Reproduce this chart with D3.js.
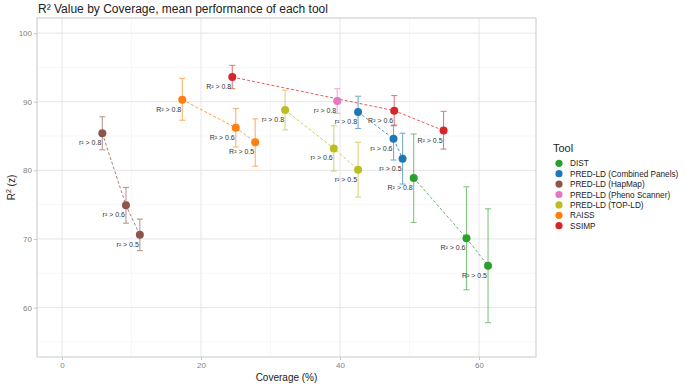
<!DOCTYPE html>
<html>
<head>
<meta charset="utf-8">
<script src="https://cdn.jsdelivr.net/npm/d3@7"></script>
<style>
  body { margin: 0; background: #fff; }
  text { font-family: "Liberation Sans", Arial, sans-serif; }
</style>
</head>
<body>
<div id="chart"></div>
<script>
// tools in legend order
var tools = ["DIST", "PRED-LD (Combined Panels)", "PRED-LD (HapMap)", "PRED-LD (Pheno Scanner)", "PRED-LD (TOP-LD)", "RAISS", "SSIMP"];
var toolColors = ["#2ca02c", "#1f77b4", "#8c564b", "#e377c2", "#bcbd22", "#ff7f0e", "#d62728"];

// one entry per point
var pointTool  = ["DIST", "DIST", "DIST",
                  "PRED-LD (Combined Panels)", "PRED-LD (Combined Panels)", "PRED-LD (Combined Panels)",
                  "PRED-LD (HapMap)", "PRED-LD (HapMap)", "PRED-LD (HapMap)",
                  "PRED-LD (Pheno Scanner)",
                  "PRED-LD (TOP-LD)", "PRED-LD (TOP-LD)", "PRED-LD (TOP-LD)",
                  "RAISS", "RAISS", "RAISS",
                  "SSIMP", "SSIMP", "SSIMP"];
var coverage   = [50.6, 58.2, 61.3,  42.6, 47.7, 49.0,  5.8, 9.2, 11.2,  39.6,  32.1, 39.1, 42.6,  17.3, 25.0, 27.8,  24.5, 47.8, 54.9];
var meanR2     = [78.9, 70.1, 66.1,  88.5, 84.6, 81.7,  85.4, 74.9, 70.6,  90.1,  88.8, 83.2, 80.1,  90.3, 86.2, 84.1,  93.6, 88.7, 85.8];
var ciLow      = [72.4, 62.6, 57.8,  86.1, 81.5, 78.0,  83.0, 72.3, 68.3,  88.3,  85.9, 79.9, 76.1,  87.3, 83.4, 80.6,  91.9, 86.6, 83.1];
var ciHigh     = [85.3, 77.6, 74.4,  90.8, 86.5, 85.4,  87.8, 77.5, 72.9,  91.9,  91.7, 86.5, 84.1,  93.4, 89.0, 87.5,  95.3, 90.9, 88.6];
var threshold  = ["R² > 0.8", "R² > 0.6", "R² > 0.5",
                  "r² > 0.8", "r² > 0.6", "r² > 0.5",
                  "r² > 0.8", "r² > 0.6", "r² > 0.5",
                  "r² > 0.8",
                  "r² > 0.8", "r² > 0.6", "r² > 0.5",
                  "R² > 0.8", "R² > 0.6", "R² > 0.5",
                  "R² > 0.8", "R² > 0.6", "R² > 0.5"];

var xTicks = [0, 20, 40, 60];
var yTicks = [60, 70, 80, 90, 100];

var data = coverage.map(function(c, i) {
    return { tool: pointTool[i], x: c, y: meanR2[i], lo: ciLow[i], hi: ciHigh[i], label: threshold[i] };
});

var W = 685, H = 384;
var margin = { top: 18, right: 149, bottom: 27, left: 37 },
    width = W - margin.left - margin.right,
    height = H - margin.top - margin.bottom;

var svg = d3.select("#chart").append("svg")
    .attr("width", W)
    .attr("height", H);

var g = svg.append("g")
    .attr("transform", "translate(" + margin.left + "," + margin.top + ")");

var xScale = d3.scaleLinear().domain([-3.6, 68.2]).range([0, width]);
var yScale = d3.scaleLinear().domain([52.8, 102.2]).range([height, 0]);
var color = d3.scaleOrdinal().domain(tools).range(toolColors);

// minor grid
[-10, 10, 30, 50, 70].forEach(function(v) {
    if (xScale(v) < 0 || xScale(v) > width) return;
    g.append("line").attr("x1", xScale(v)).attr("x2", xScale(v)).attr("y1", 0).attr("y2", height)
        .style("stroke", "#f2f2f2").style("stroke-width", 0.6);
});
[55, 65, 75, 85, 95].forEach(function(v) {
    g.append("line").attr("y1", yScale(v)).attr("y2", yScale(v)).attr("x1", 0).attr("x2", width)
        .style("stroke", "#f2f2f2").style("stroke-width", 0.6);
});
// major grid
xTicks.forEach(function(v) {
    g.append("line").attr("x1", xScale(v)).attr("x2", xScale(v)).attr("y1", 0).attr("y2", height)
        .style("stroke", "#e6e6e6").style("stroke-width", 1);
});
yTicks.forEach(function(v) {
    g.append("line").attr("y1", yScale(v)).attr("y2", yScale(v)).attr("x1", 0).attr("x2", width)
        .style("stroke", "#e6e6e6").style("stroke-width", 1);
});

// axes
var xAxis = g.append("g")
    .attr("transform", "translate(0," + height + ")")
    .call(d3.axisBottom(xScale).tickValues(xTicks).tickSize(3).tickPadding(2));
var yAxis = g.append("g")
    .call(d3.axisLeft(yScale).tickValues(yTicks).tickSize(3).tickPadding(2));
[xAxis, yAxis].forEach(function(a) {
    a.select(".domain").remove();
    a.selectAll("line").style("stroke", "#c8c8c8");
    a.selectAll("text").style("fill", "#7f7f7f").style("font-size", "8px")
        .style("font-family", "'Liberation Sans', Arial, sans-serif");
});

// panel border
g.append("rect").attr("width", width).attr("height", height)
    .style("fill", "none").style("stroke", "#c8c8c8").style("stroke-width", 1);

// dashed connecting lines
var line = d3.line()
    .x(function(d) { return xScale(d.x); })
    .y(function(d) { return yScale(d.y); });

tools.forEach(function(t) {
    var pts = data.filter(function(d) { return d.tool === t; });
    g.append("path")
        .datum(pts)
        .attr("d", line)
        .style("fill", "none")
        .style("stroke", color(t))
        .style("stroke-width", 1)
        .style("stroke-dasharray", "3,2")
        .style("opacity", 0.75);
});

// error bars
var bars = g.selectAll(".errbar").data(data).enter().append("g")
    .attr("class", "errbar")
    .style("stroke", function(d) { return color(d.tool); })
    .style("stroke-width", 1.1)
    .style("opacity", 0.6);
bars.append("line")
    .attr("x1", function(d) { return xScale(d.x); })
    .attr("x2", function(d) { return xScale(d.x); })
    .attr("y1", function(d) { return yScale(d.lo); })
    .attr("y2", function(d) { return yScale(d.hi); });
bars.append("line")
    .attr("x1", function(d) { return xScale(d.x) - 3; })
    .attr("x2", function(d) { return xScale(d.x) + 3; })
    .attr("y1", function(d) { return yScale(d.lo); })
    .attr("y2", function(d) { return yScale(d.lo); });
bars.append("line")
    .attr("x1", function(d) { return xScale(d.x) - 3; })
    .attr("x2", function(d) { return xScale(d.x) + 3; })
    .attr("y1", function(d) { return yScale(d.hi); })
    .attr("y2", function(d) { return yScale(d.hi); });

// points
g.selectAll(".pt").data(data).enter().append("circle")
    .attr("class", "pt")
    .attr("cx", function(d) { return xScale(d.x); })
    .attr("cy", function(d) { return yScale(d.y); })
    .attr("r", 4)
    .style("fill", function(d) { return color(d.tool); });

// threshold labels
g.selectAll(".lbl").data(data).enter().append("text")
    .attr("class", "lbl")
    .attr("x", function(d) { return xScale(d.x) - 1; })
    .attr("y", function(d) { return yScale(d.y) + 12; })
    .attr("text-anchor", "end")
    .style("font-size", "7px")
    .style("fill", "#333")
    .text(function(d) { return d.label; });

// title
svg.append("text")
    .attr("x", 38).attr("y", 13)
    .style("font-size", "12px")
    .style("fill", "#222")
    .text("R² Value by Coverage, mean performance of each tool");

// axis titles
svg.append("text")
    .attr("x", margin.left + width / 2).attr("y", 381)
    .attr("text-anchor", "middle")
    .style("font-size", "10px")
    .style("fill", "#222")
    .text("Coverage (%)");

var yt = svg.append("text")
    .attr("transform", "translate(15," + (margin.top + height / 2) + ") rotate(-90)")
    .attr("text-anchor", "middle")
    .style("font-size", "10px")
    .style("fill", "#222");
yt.append("tspan").text("R");
yt.append("tspan").attr("dy", -4).style("font-size", "7px").text("2");
yt.append("tspan").attr("dy", 4).text(" (z)");

// legend
var legend = svg.append("g").attr("transform", "translate(553,0)");
legend.append("text")
    .attr("x", 0).attr("y", 152)
    .style("font-size", "11px")
    .style("fill", "#222")
    .text("Tool");
var items = legend.selectAll(".leg").data(tools).enter().append("g")
    .attr("class", "leg")
    .attr("transform", function(d, i) { return "translate(0," + (163.3 + i * 10.4) + ")"; });
items.append("circle")
    .attr("cx", 6).attr("cy", 0).attr("r", 3.6)
    .style("fill", function(d) { return color(d); });
items.append("text")
    .attr("x", 17).attr("y", 3.1)
    .style("font-size", "8.2px")
    .style("fill", "#222")
    .text(function(d) { return d; });
</script>
</body>
</html>
